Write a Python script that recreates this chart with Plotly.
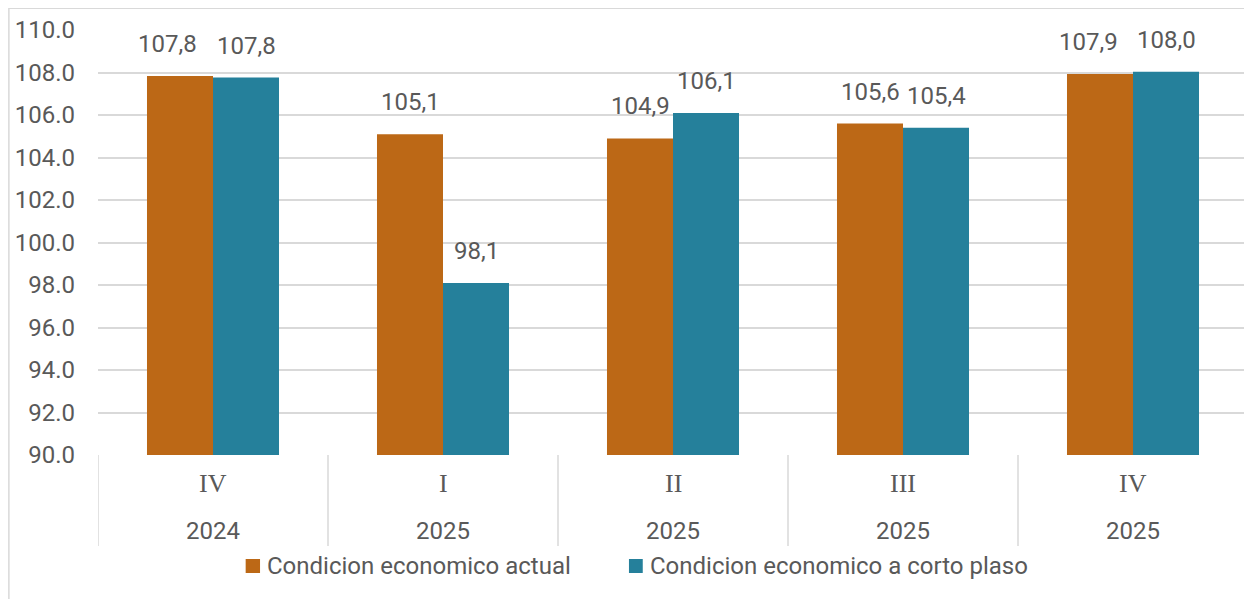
import plotly.graph_objects as go

quarters = ["IV", "I", "II", "III", "IV"]
years = ["2024", "2025", "2025", "2025", "2025"]
cats = ["c0", "c1", "c2", "c3", "c4"]
actual = [107.83, 105.1, 104.9, 105.6, 107.93]
corto = [107.76, 98.1, 106.1, 105.4, 108.03]
actual_labels = ["107,8", "105,1", "104,9", "105,6", "107,9"]
corto_labels = ["107,8", "98,1", "106,1", "105,4", "108,0"]
series_names = ["Condicion economico actual", "Condicion economico a corto plaso"]

ORANGE = "#BC6816"
TEAL = "#25809B"
TXT = "#595959"
GRID = "#D9D9D9"
FONT = "Roboto"
FS = 24

fig = go.Figure()
fig.add_trace(go.Bar(x=cats, y=actual, name=series_names[0], marker_color=ORANGE,
                     marker_line_width=0, showlegend=False))
fig.add_trace(go.Bar(x=cats, y=corto, name=series_names[1], marker_color=TEAL,
                     marker_line_width=0, showlegend=False))

# label nudges to avoid overlapping neighbouring labels (as in the original)
nudge_actual = {0: -13, 4: -12}

ann = []
for i, (c, v, t) in enumerate(zip(cats, actual, actual_labels)):
    ann.append(dict(x=c, y=v, text=t, xref="x", yref="y", showarrow=False,
                    yanchor="bottom", xshift=-33 + nudge_actual.get(i, 0), yshift=16,
                    font=dict(family=FONT, size=FS, color=TXT)))
for c, v, t in zip(cats, corto, corto_labels):
    ann.append(dict(x=c, y=v, text=t, xref="x", yref="y", showarrow=False,
                    yanchor="bottom", xshift=33, yshift=16,
                    font=dict(family=FONT, size=FS, color=TXT)))
for c, q, yr in zip(cats, quarters, years):
    ann.append(dict(x=c, y=-0.067, text=q, xref="x", yref="paper", showarrow=False,
                    yanchor="middle", font=dict(family="Liberation Serif", size=26, color=TXT)))
    ann.append(dict(x=c, y=-0.179, text=yr, xref="x", yref="paper", showarrow=False,
                    yanchor="middle", font=dict(family=FONT, size=FS, color=TXT)))

# manual legend
legend_items = [
    (series_names[0], ORANGE, 0.1284, 0.1409, 0.1452),
    (series_names[1], TEAL, 0.4617, 0.4737, 0.4783),
]
shapes = []
for name, col, sx0, sx1, tx in legend_items:
    shapes.append(dict(type="rect", xref="paper", yref="paper", x0=sx0, x1=sx1,
                       y0=-0.2776, y1=-0.2447, fillcolor=col, line=dict(width=0)))
    ann.append(dict(x=tx, y=-0.2612, text=name, xref="paper", yref="paper",
                    showarrow=False, xanchor="left", yanchor="middle",
                    font=dict(family=FONT, size=FS, color=TXT)))

n = len(cats)
for i in range(n + 1):
    shapes.append(dict(type="line", xref="x", yref="paper", x0=i - 0.5, x1=i - 0.5,
                       y0=0, y1=-0.214, line=dict(color=GRID, width=1.5)))
# outer chart border
shapes.append(dict(type="rect", xref="paper", yref="paper",
                   x0=-0.0775, x1=1.05, y0=-0.5, y1=1.051,
                   line=dict(color=GRID, width=1.5)))

fig.update_layout(
    width=1244, height=591,
    margin=dict(l=90, r=4, t=22, b=144),
    paper_bgcolor="white", plot_bgcolor="white",
    barmode="group", bargap=0.426, bargroupgap=0,
    font=dict(family=FONT, size=FS, color=TXT),
    xaxis=dict(type="category", showticklabels=False, showgrid=False, zeroline=False,
               showline=False, range=[-0.5, n - 0.5]),
    yaxis=dict(range=[90, 110], dtick=2, tickformat=".1f", showgrid=True,
               gridcolor=GRID, gridwidth=1.5, zeroline=False, showline=False,
               tickfont=dict(family=FONT, size=FS, color=TXT), ticklabelstandoff=22),
    showlegend=False,
    annotations=ann, shapes=shapes,
)
fig.write_html("out.html")
